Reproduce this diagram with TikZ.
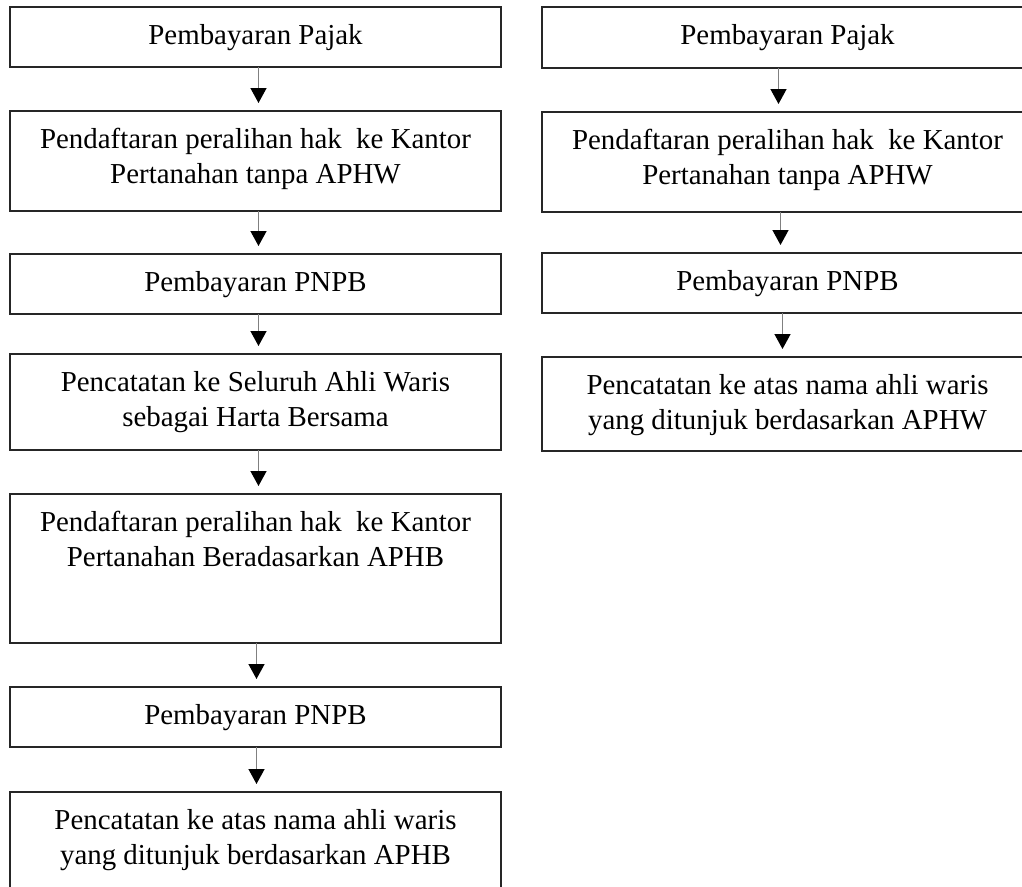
\documentclass[tikz,border=0pt]{standalone}
\usepackage{fontspec}
\setmainfont{Liberation Serif}
\usetikzlibrary{arrows.meta}
\begin{document}
\begin{tikzpicture}[x=1pt,y=-1pt,
  box/.style={draw=black!85, line width=1.2pt, minimum width=491pt, anchor=north west, inner sep=0pt, outer sep=0pt},
  txt/.style={anchor=north, align=center, inner sep=0pt, font=\fontsize{28.9}{35}\selectfont, yshift=-17pt},
  flow/.style={draw=black!50, line width=1.4pt, -{Triangle[width=16pt,length=15pt,color=black,fill=black]}, shorten >=8pt}]
\clip (0,0) rectangle (1022,886);
\fill[white] (0,0) rectangle (1022,886);
% left column
\node[box, minimum height=60pt]  (L1) at (10,7)   {};
\node[box, minimum height=100pt] (L2) at (10,111) {};
\node[box, minimum height=60pt]  (L3) at (10,254) {};
\node[box, minimum height=96pt]  (L4) at (10,354) {};
\node[box, minimum height=149pt] (L5) at (10,494) {};
\node[box, minimum height=60pt]  (L6) at (10,687) {};
\node[box, minimum height=130pt] (L7) at (10,792) {};
\node[txt] (tL1) at (L1.north) {Pembayaran Pajak};
\node[txt] (tL2) at (L2.north) {Pendaftaran peralihan hak\ \ ke Kantor\\Pertanahan tanpa APHW};
\node[txt] (tL3) at (L3.north) {Pembayaran PNPB};
\node[txt] (tL4) at (L4.north) {Pencatatan ke Seluruh Ahli Waris\\sebagai Harta Bersama};
\node[txt] (tL5) at (L5.north) {Pendaftaran peralihan hak\ \ ke Kantor\\Pertanahan Beradasarkan APHB};
\node[txt] (tL6) at (L6.north) {Pembayaran PNPB};
\node[txt] (tL7) at (L7.north) {Pencatatan ke atas nama ahli waris\\yang ditunjuk berdasarkan APHB};
% right column
\node[box, minimum height=61pt]  (R1) at (542,7)   {};
\node[box, minimum height=100pt] (R2) at (542,112) {};
\node[box, minimum height=60pt]  (R3) at (542,253) {};
\node[box, minimum height=94pt]  (R4) at (542,357) {};
\node[txt] (tR1) at (R1.north) {Pembayaran Pajak};
\node[txt] (tR2) at (R2.north) {Pendaftaran peralihan hak\ \ ke Kantor\\Pertanahan tanpa APHW};
\node[txt] (tR3) at (R3.north) {Pembayaran PNPB};
\node[txt] (tR4) at (R4.north) {Pencatatan ke atas nama ahli waris\\yang ditunjuk berdasarkan APHW};
% connectors
\draw[flow] ([xshift=3pt]L1.south) -- ([xshift=3pt]L2.north);
\draw[flow] ([xshift=3pt]L2.south) -- ([xshift=3pt]L3.north);
\draw[flow] ([xshift=3pt]L3.south) -- ([xshift=3pt]L4.north);
\draw[flow] ([xshift=3pt]L4.south) -- ([xshift=3pt]L5.north);
\draw[flow] ([xshift=1pt]L5.south) -- ([xshift=1pt]L6.north);
\draw[flow] ([xshift=1pt]L6.south) -- ([xshift=1pt]L7.north);
\draw[flow] ([xshift=-9pt]R1.south) -- ([xshift=-9pt]R2.north);
\draw[flow] ([xshift=-7pt]R2.south) -- ([xshift=-7pt]R3.north);
\draw[flow] ([xshift=-5pt]R3.south) -- ([xshift=-5pt]R4.north);
\end{tikzpicture}
\end{document}
